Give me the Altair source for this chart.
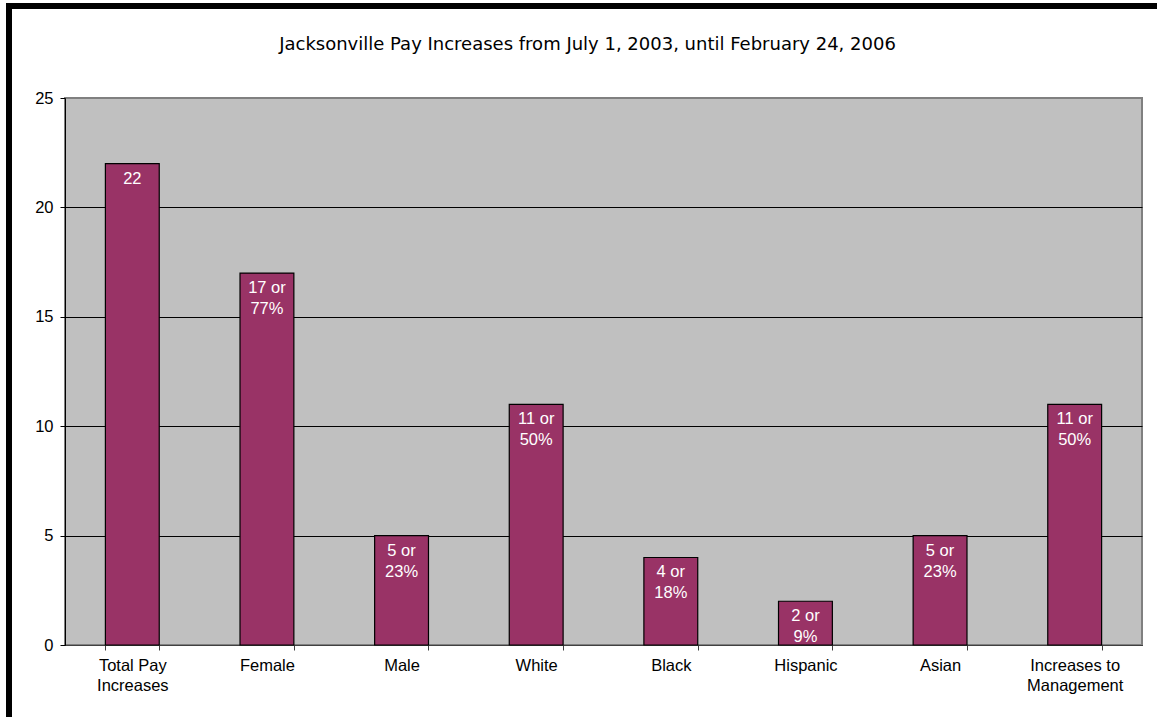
import altair as alt
import pandas as pd

categories = ["Total Pay\nIncreases", "Female", "Male", "White", "Black",
              "Hispanic", "Asian", "Increases to\nManagement"]
values = [22, 17, 5, 11, 4, 2, 5, 11]
bar_labels = ["22", "17 or\n77%", "5 or\n23%", "11 or\n50%", "4 or\n18%",
              "2 or\n9%", "5 or\n23%", "11 or\n50%"]
y_ticks = [0, 5, 10, 15, 20, 25]
title_text = "Jacksonville Pay Increases from July 1, 2003, until February 24, 2006"

df = pd.DataFrame({"cat": categories, "val": values, "lab": bar_labels})

W, H = 1077, 547
PL, PT = 65, 98
FS = 16.5

x = alt.X("cat:N", sort=categories, title=None,
          scale=alt.Scale(paddingInner=0.6, paddingOuter=0.3),
          axis=alt.Axis(labelExpr="isValid(datum.value) ? split(datum.value, '\\n') : ''",
                        labelAngle=0,
                        tickBand="extent", domainColor="#404040", tickColor="#404040",
                        tickSize=5, labelPadding=7, labelFont="Liberation Sans",
                        labelFontSize=FS, labelColor="black", labelLineHeight=20,
                        grid=False))
y = alt.Y("val:Q", title=None,
          scale=alt.Scale(domain=[0, 25], nice=False),
          axis=alt.Axis(values=y_ticks, domainColor="black", tickColor="black",
                        tickSize=5, labelPadding=7, labelFont="Liberation Sans",
                        labelFontSize=FS, labelColor="black",
                        gridColor={"condition": {"test": "datum.value == 25", "value": "#808080"},
                                   "value": "black"},
                        gridWidth=1))

bars = alt.Chart(df).mark_bar(color="#993366", stroke="black", strokeWidth=1.2).encode(x=x, y=y)

texts = alt.Chart(df).mark_text(color="white", baseline="top", dy=7, lineBreak="\n",
                                 lineHeight=21, font="Liberation Sans", fontSize=FS).encode(
    x=alt.X("cat:N", sort=categories), y="val:Q", text="lab:N")

frame_df = pd.DataFrame({"a": [0]})
title_df = pd.DataFrame({"t": [title_text]})
title_mark = alt.Chart(title_df).mark_text(font="Verdana, 'DejaVu Sans', sans-serif", fontSize=18,
                                            color="black", baseline="middle", align="center").encode(
    x=alt.value(587.5 - PL), y=alt.value(45 - PT), text="t:N")
top_border = alt.Chart(frame_df).mark_rule(color="black", strokeWidth=6).encode(
    x=alt.value(6 - PL), x2=alt.value(1157 - PL), y=alt.value(6 - PT))
left_border = alt.Chart(frame_df).mark_rule(color="black", strokeWidth=6).encode(
    x=alt.value(9 - PL), y=alt.value(3 - PT), y2=alt.value(717 - PT))

chart = alt.layer(bars, texts, title_mark, top_border, left_border).properties(
    width=W, height=H,
    autosize=alt.AutoSizeParams(type="none"),
    padding={"left": PL, "top": PT, "right": 1157 - PL - W, "bottom": 717 - PT - H},
    background="white",
).configure_view(fill="#C0C0C0", stroke="#808080", strokeWidth=2)

chart.save("out.html", embed_options={"renderer": "svg", "actions": False})
